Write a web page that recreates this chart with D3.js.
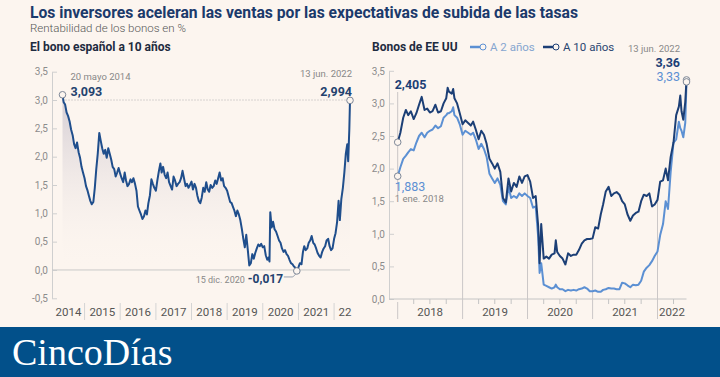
<!DOCTYPE html>
<html>
<head>
<meta charset="utf-8">
<script src="https://cdn.jsdelivr.net/npm/d3@7"></script>
<style>
  body { margin: 0; background: #fcf5ef; }
  svg text { font-family: Roboto, "Noto Sans", sans-serif; }
</style>
</head>
<body>
<div id="container"></div>
<script>
let w = 720;
let h = 377;

// Spanish 10-year bond yield (%)
let esDates = [
  "2014-05-20","2014-06-01","2014-06-16","2014-07-01","2014-07-16","2014-08-01","2014-08-16","2014-09-01","2014-09-16","2014-10-01","2014-10-16","2014-11-01","2014-11-16","2014-12-01","2014-12-16",
  "2015-01-01","2015-01-16","2015-02-01","2015-02-16","2015-03-01","2015-03-16","2015-04-01","2015-04-16","2015-05-01","2015-05-16","2015-06-01","2015-06-16","2015-07-01","2015-07-16","2015-08-01","2015-08-16","2015-09-01","2015-09-16","2015-10-01","2015-10-16","2015-11-01","2015-11-16","2015-12-01","2015-12-16",
  "2016-01-01","2016-01-16","2016-02-01","2016-02-16","2016-03-01","2016-03-16","2016-04-01","2016-04-16","2016-05-01","2016-05-16","2016-06-01","2016-06-16","2016-07-01","2016-07-16","2016-08-01","2016-08-16","2016-09-01","2016-09-16","2016-10-01","2016-10-16","2016-11-01","2016-11-16","2016-12-01","2016-12-16",
  "2017-01-01","2017-01-16","2017-02-01","2017-02-16","2017-03-01","2017-03-16","2017-04-01","2017-04-16","2017-05-01","2017-05-16","2017-06-01","2017-06-16","2017-07-01","2017-07-16","2017-08-01","2017-08-16","2017-09-01","2017-09-16","2017-10-01","2017-10-16","2017-11-01","2017-11-16","2017-12-01","2017-12-16",
  "2018-01-01","2018-01-16","2018-02-01","2018-02-16","2018-03-01","2018-03-16","2018-04-01","2018-04-16","2018-05-01","2018-05-16","2018-06-01","2018-06-16","2018-07-01","2018-07-16","2018-08-01","2018-08-16","2018-09-01","2018-09-16","2018-10-01","2018-10-16","2018-11-01","2018-11-16","2018-12-01","2018-12-16",
  "2019-01-01","2019-01-16","2019-02-01","2019-02-16","2019-03-01","2019-03-16","2019-04-01","2019-04-16","2019-05-01","2019-05-16","2019-06-01","2019-06-16","2019-07-01","2019-07-16","2019-08-01","2019-08-16","2019-09-01","2019-09-16","2019-10-01","2019-10-16","2019-11-01","2019-11-16","2019-12-01","2019-12-16",
  "2020-01-01","2020-01-16","2020-02-01","2020-02-16","2020-03-01","2020-03-10","2020-03-18","2020-04-01","2020-04-16","2020-05-01","2020-05-16","2020-06-01","2020-06-16","2020-07-01","2020-07-16","2020-08-01","2020-08-16","2020-09-01","2020-09-16","2020-10-01","2020-10-16","2020-11-01","2020-11-16","2020-12-01","2020-12-15",
  "2021-01-01","2021-01-16","2021-02-01","2021-02-16","2021-03-01","2021-03-16","2021-04-01","2021-04-16","2021-05-01","2021-05-16","2021-06-01","2021-06-16","2021-07-01","2021-07-16","2021-08-01","2021-08-16","2021-09-01","2021-09-16","2021-10-01","2021-10-16","2021-11-01","2021-11-16","2021-12-01","2021-12-16",
  "2022-01-01","2022-01-16","2022-02-01","2022-02-16","2022-03-01","2022-03-16","2022-04-01","2022-04-16","2022-05-01","2022-05-16","2022-05-25","2022-06-06","2022-06-13"
];
let esYield = [
  3.093,2.96,2.92,2.78,2.72,2.62,2.48,2.38,2.22,2.15,2.25,2.08,1.98,1.82,1.72,
  1.62,1.48,1.40,1.30,1.22,1.16,1.20,1.45,1.78,2.05,2.42,2.28,2.15,2.05,2.12,1.98,2.15,2.05,1.95,1.82,1.78,1.65,1.72,1.80,
  1.70,1.62,1.55,1.72,1.58,1.48,1.52,1.60,1.55,1.62,1.52,1.40,1.12,1.05,0.98,0.90,0.95,1.05,0.98,1.18,1.32,1.60,1.52,1.45,
  1.40,1.58,1.75,1.88,1.72,1.82,1.68,1.62,1.72,1.55,1.48,1.42,1.65,1.58,1.48,1.52,1.55,1.62,1.75,1.62,1.48,1.52,1.45,1.50,
  1.56,1.42,1.52,1.45,1.32,1.22,1.18,1.28,1.45,1.38,1.55,1.42,1.38,1.50,1.45,1.48,1.58,1.52,1.62,1.72,1.58,1.62,1.48,1.45,
  1.40,1.30,1.20,1.18,1.12,1.05,0.95,1.05,0.98,0.88,0.72,0.55,0.40,0.62,0.35,0.08,0.12,0.28,0.20,0.30,0.38,0.45,0.42,0.46,
  0.40,0.42,0.26,0.18,0.22,0.15,1.02,0.75,0.85,0.72,0.68,0.60,0.52,0.48,0.38,0.32,0.35,0.28,0.25,0.18,0.12,0.10,0.06,0.04,-0.017,
  0.05,0.12,0.10,0.32,0.42,0.35,0.38,0.48,0.52,0.60,0.48,0.45,0.38,0.30,0.25,0.22,0.32,0.38,0.42,0.52,0.55,0.42,0.35,0.38,
  0.55,0.65,0.85,1.22,0.88,1.25,1.45,1.72,2.05,2.22,1.92,2.48,2.994
];

// US Treasury yields (%)
let usDates = [
  "2018-01-01","2018-01-16","2018-02-01","2018-02-16","2018-03-01","2018-03-16","2018-04-01","2018-04-16","2018-05-01","2018-05-16","2018-06-01","2018-06-16","2018-07-01","2018-07-16","2018-08-01","2018-08-16","2018-09-01","2018-09-16","2018-10-01","2018-10-09","2018-10-16","2018-11-01","2018-11-09","2018-11-16","2018-12-01","2018-12-16",
  "2019-01-01","2019-01-16","2019-02-01","2019-02-16","2019-03-01","2019-03-16","2019-04-01","2019-04-16","2019-05-01","2019-05-16","2019-06-01","2019-06-16","2019-07-01","2019-07-16","2019-08-01","2019-08-16","2019-09-01","2019-09-16","2019-10-01","2019-10-16","2019-11-01","2019-11-16","2019-12-01","2019-12-16",
  "2020-01-01","2020-01-16","2020-02-01","2020-02-16","2020-03-01","2020-03-09","2020-03-18","2020-04-01","2020-04-16","2020-05-01","2020-05-16","2020-06-01","2020-06-08","2020-06-16","2020-07-01","2020-07-16","2020-08-01","2020-08-16","2020-09-01","2020-09-16","2020-10-01","2020-10-16","2020-11-01","2020-11-16","2020-12-01","2020-12-16",
  "2021-01-01","2021-01-16","2021-02-01","2021-02-16","2021-03-01","2021-03-16","2021-04-01","2021-04-16","2021-05-01","2021-05-16","2021-06-01","2021-06-16","2021-07-01","2021-07-16","2021-08-01","2021-08-16","2021-09-01","2021-09-16","2021-10-01","2021-10-16","2021-11-01","2021-11-16","2021-12-01","2021-12-16",
  "2022-01-01","2022-01-16","2022-02-01","2022-02-16","2022-03-01","2022-03-16","2022-04-01","2022-04-16","2022-05-01","2022-05-09","2022-05-16","2022-05-26","2022-06-06","2022-06-13"
];
let us10y = [
  2.405,2.55,2.78,2.90,2.82,2.88,2.76,2.85,2.98,3.10,2.90,2.92,2.86,2.88,2.98,2.86,2.88,3.00,3.08,3.24,3.18,3.15,3.22,3.08,3.00,2.85,
  2.68,2.74,2.70,2.66,2.72,2.60,2.45,2.58,2.52,2.38,2.15,2.08,2.00,2.08,1.95,1.55,1.48,1.85,1.65,1.78,1.72,1.88,1.78,1.88,
  1.90,1.80,1.55,1.58,1.12,0.55,1.15,0.62,0.65,0.62,0.68,0.70,0.90,0.72,0.66,0.62,0.53,0.70,0.66,0.68,0.68,0.75,0.85,0.90,0.92,0.92,
  0.93,1.10,1.08,1.30,1.45,1.65,1.72,1.58,1.62,1.64,1.60,1.50,1.45,1.30,1.20,1.28,1.32,1.34,1.50,1.60,1.58,1.62,1.42,1.45,
  1.52,1.80,1.82,2.00,1.82,2.18,2.40,2.82,2.95,3.12,2.88,2.75,3.02,3.36
];
let us2y = [
  1.883,2.02,2.15,2.20,2.25,2.30,2.28,2.40,2.50,2.55,2.48,2.55,2.58,2.60,2.66,2.62,2.65,2.78,2.82,2.85,2.85,2.88,2.94,2.82,2.78,2.68,
  2.52,2.58,2.55,2.52,2.55,2.45,2.30,2.38,2.30,2.18,1.92,1.85,1.78,1.85,1.75,1.50,1.45,1.72,1.55,1.58,1.55,1.62,1.58,1.62,
  1.58,1.55,1.40,1.42,0.95,0.40,0.55,0.22,0.20,0.18,0.16,0.18,0.22,0.18,0.15,0.15,0.12,0.14,0.13,0.14,0.13,0.15,0.16,0.18,0.16,0.12,
  0.12,0.13,0.11,0.11,0.14,0.15,0.17,0.16,0.16,0.15,0.15,0.25,0.24,0.21,0.18,0.22,0.21,0.22,0.28,0.42,0.48,0.52,0.58,0.66,
  0.73,0.98,1.15,1.50,1.38,1.95,2.40,2.45,2.72,2.62,2.58,2.48,2.70,3.33
];

let esTicks = [-0.5, 0, 0.5, 1, 1.5, 2, 2.5, 3, 3.5];
let usTicks = [0, 0.5, 1, 1.5, 2, 2.5, 3, 3.5];
let esYears = [2014, 2015, 2016, 2017, 2018, 2019, 2020, 2021, 2022];
let usYears = [2018, 2019, 2020, 2021, 2022];

let bg = "#fcf5ef";
let esColor = "#1f4e8c";
let c10 = "#1c3f76";
let c2 = "#5c90d3";

let parse = d3.timeParse("%Y-%m-%d");
let es = esDates.map((d, i) => ({date: parse(d), v: esYield[i]}));
let us = usDates.map((d, i) => ({date: parse(d), v10: us10y[i], v2: us2y[i]}));

let comma = d3.formatLocale({decimal: ",", thousands: ".", grouping: [3], currency: ["", ""], minus: "-"});
let f1 = comma.format(".1f");

let viz = d3.select("#container")
  .append("svg")
    .attr("width", w)
    .attr("height", h)
;
viz.append("rect").attr("width", w).attr("height", h).attr("fill", bg);

// titles
viz.append("text").attr("x", 30).attr("y", 18)
  .text("Los inversores aceleran las ventas por las expectativas de subida de las tasas")
  .attr("font-size", 17).attr("font-weight", 700).attr("fill", "#1b3a6b")
  .attr("textLength", 548).attr("lengthAdjust", "spacingAndGlyphs");
viz.append("text").attr("x", 30).attr("y", 32)
  .text("Rentabilidad de los bonos en %")
  .attr("font-size", 11.5).attr("fill", "#555").attr("font-weight", 300);
viz.append("text").attr("x", 30).attr("y", 51)
  .text("El bono español a 10 años")
  .attr("font-size", 12).attr("font-weight", 700).attr("fill", "#1e2b40");
viz.append("text").attr("x", 372).attr("y", 51)
  .text("Bonos de EE UU")
  .attr("font-size", 12).attr("font-weight", 700).attr("fill", "#1e2b40");

// ---------- left chart ----------
let xL = d3.scaleTime().domain([es[0].date, es[es.length - 1].date]).range([62.5, 350]);
let yL = d3.scaleLinear().domain([-0.5, 3.5]).range([298.3, 71.7]);

let defs = viz.append("defs");
let grad = defs.append("linearGradient").attr("id", "esFill")
  .attr("gradientUnits", "userSpaceOnUse")
  .attr("x1", 0).attr("x2", 0).attr("y1", yL(3.1)).attr("y2", yL(0));
grad.append("stop").attr("offset", 0).attr("stop-color", "#d3ccd3");
grad.append("stop").attr("offset", 1).attr("stop-color", bg).attr("stop-opacity", 0);

viz.append("path").datum(es)
  .attr("d", d3.area().x(d => xL(d.date)).y0(yL(0)).y1(d => yL(d.v)))
  .attr("fill", "url(#esFill)");

let yAxisL = viz.append("g").attr("transform", "translate(52,0)")
  .call(d3.axisLeft(yL).tickValues(esTicks).tickFormat(f1).tickSize(-5).tickSizeOuter(0).tickPadding(4));
yAxisL.select(".domain").attr("stroke", "#cfcfcf");
yAxisL.selectAll(".tick line").attr("stroke", "#cfcfcf");
yAxisL.selectAll("text").attr("fill", "#8c8c8c").attr("font-size", 10);

viz.append("line").attr("x1", 52).attr("x2", xL.range()[1]).attr("y1", yL(0)).attr("y2", yL(0))
  .attr("stroke", "#c9c9c9");
viz.append("line").attr("x1", xL.range()[0]).attr("x2", xL.range()[1]).attr("y1", yL(3)).attr("y2", yL(3))
  .attr("stroke", "#b0b0b0").attr("stroke-dasharray", "1,2");

viz.append("g").selectAll("line").data(esYears.slice(1)).enter()
  .append("line")
    .attr("x1", d => xL(new Date(d, 0, 1))).attr("x2", d => xL(new Date(d, 0, 1)))
    .attr("y1", 303).attr("y2", 320)
    .attr("stroke", "#d4d4d4");

viz.append("g").selectAll("text").data(esYears).enter()
  .append("text")
    .attr("x", d => Math.max(xL.range()[0] + 6, Math.min(xL.range()[1] - 5, xL(new Date(d, 6, 2)))))
    .attr("y", 316)
    .attr("text-anchor", "middle")
    .attr("font-size", 11.5).attr("fill", "#555")
    .text(d => d == 2022 ? "22" : d);

viz.append("path").datum(es)
  .attr("d", d3.line().x(d => xL(d.date)).y(d => yL(d.v)))
  .attr("fill", "none").attr("stroke", esColor).attr("stroke-width", 2).attr("stroke-linejoin", "round");

// annotations left
let esMin = es.find(d => d.v == d3.min(esYield));
let esFirst = es[0], esLast = es[es.length - 1];

viz.append("polyline")
  .attr("points", [[xL(esMin.date) - 13, yL(esMin.v) + 6], [xL(esMin.date) - 4, yL(esMin.v) + 6], [xL(esMin.date) - 1, yL(esMin.v) + 3]].join(" "))
  .attr("fill", "none").attr("stroke", "#9aa3b0");

viz.selectAll(".esMarker").data([esFirst, esLast, esMin]).enter()
  .append("circle")
    .attr("cx", d => xL(d.date)).attr("cy", d => yL(d.v)).attr("r", 3.3)
    .attr("fill", bg).attr("stroke", "#7d8797").attr("stroke-width", 1);

viz.append("text").attr("x", xL(esFirst.date) + 8).attr("y", 80)
  .text("20 mayo 2014").attr("font-size", 9.5).attr("fill", "#888");
viz.append("text").attr("x", xL(esFirst.date) + 8).attr("y", 96)
  .text(comma.format(".3f")(esFirst.v)).attr("font-size", 12.5).attr("font-weight", 700).attr("fill", "#23426e");
viz.append("text").attr("x", xL(esLast.date) + 2).attr("y", 77).attr("text-anchor", "end")
  .text("13 jun. 2022").attr("font-size", 9.5).attr("fill", "#888");
viz.append("text").attr("x", xL(esLast.date) + 2).attr("y", 96).attr("text-anchor", "end")
  .text(comma.format(".3f")(esLast.v)).attr("font-size", 12.5).attr("font-weight", 700).attr("fill", "#23426e");
viz.append("text").attr("x", xL(esMin.date) - 52).attr("y", 283).attr("text-anchor", "end")
  .text("15 dic. 2020").attr("font-size", 9).attr("fill", "#888");
viz.append("text").attr("x", xL(esMin.date) - 49).attr("y", 283)
  .text(comma.format(".3f")(esMin.v)).attr("font-size", 12).attr("font-weight", 700).attr("fill", "#23426e");

// ---------- right chart ----------
let xR = d3.scaleTime().domain([us[0].date, us[us.length - 1].date]).range([397.7, 686.5]);
let yR = d3.scaleLinear().domain([0, 3.5]).range([299, 70.8]);

let yAxisR = viz.append("g").attr("transform", "translate(389,0)")
  .call(d3.axisLeft(yR).tickValues(usTicks).tickFormat(f1).tickSize(-5).tickSizeOuter(0).tickPadding(4));
yAxisR.select(".domain").attr("stroke", "#cfcfcf");
yAxisR.selectAll(".tick line").attr("stroke", "#cfcfcf");
yAxisR.selectAll("text").attr("fill", "#8c8c8c").attr("font-size", 10);

viz.append("line").attr("x1", 389).attr("x2", xR.range()[1]).attr("y1", yR(0)).attr("y2", yR(0))
  .attr("stroke", "#c4c4c4");

// quarter ticks
let quarters = d3.timeMonth.every(3).range(xR.domain()[0], xR.domain()[1]).filter(d => d.getMonth() != 0);
viz.append("g").selectAll("line").data(quarters).enter()
  .append("line")
    .attr("x1", d => xR(d)).attr("x2", d => xR(d))
    .attr("y1", yR(0)).attr("y2", yR(0) + 5)
    .attr("stroke", "#c4c4c4");

// year lines dropping from the 10y curve
let bis = d3.bisector(d => d.date).left;
viz.append("g").selectAll("line").data(usYears).enter()
  .append("line")
    .attr("x1", d => xR(new Date(d, 0, 1))).attr("x2", d => xR(new Date(d, 0, 1)))
    .attr("y1", d => d == 2018 ? yR(0) + 3 : yR(us[bis(us, new Date(d, 0, 1))].v10))
    .attr("y2", 319)
    .attr("stroke", "#cbc7c7");

viz.append("g").selectAll("text").data(usYears).enter()
  .append("text")
    .attr("x", d => {
      let a = xR(Math.max(new Date(d, 0, 1), xR.domain()[0]));
      let b = xR(Math.min(new Date(d + 1, 0, 1), xR.domain()[1]));
      return (a + b) / 2;
    })
    .attr("y", 316)
    .attr("text-anchor", "middle")
    .attr("font-size", 11.5).attr("fill", "#555")
    .text(d => d);

// leader at start
let usFirst = us[0], usLast = us[us.length - 1];
viz.append("line")
  .attr("x1", xR(usFirst.date)).attr("x2", xR(usFirst.date))
  .attr("y1", 92).attr("y2", 196)
  .attr("stroke", "#c9c6c6");

viz.append("path").datum(us)
  .attr("d", d3.line().x(d => xR(d.date)).y(d => yR(d.v2)))
  .attr("fill", "none").attr("stroke", c2).attr("stroke-width", 2).attr("stroke-linejoin", "round");
viz.append("path").datum(us)
  .attr("d", d3.line().x(d => xR(d.date)).y(d => yR(d.v10)))
  .attr("fill", "none").attr("stroke", c10).attr("stroke-width", 2).attr("stroke-linejoin", "round");

viz.selectAll(".usMarker").data([
    {date: usFirst.date, v: usFirst.v10}, {date: usFirst.date, v: usFirst.v2},
    {date: usLast.date, v: usLast.v10}, {date: usLast.date, v: usLast.v2}
  ]).enter()
  .append("circle")
    .attr("cx", d => xR(d.date)).attr("cy", d => yR(d.v)).attr("r", 3.3)
    .attr("fill", bg).attr("stroke", "#7d8797").attr("stroke-width", 1);

viz.append("text").attr("x", xR(usFirst.date) - 3).attr("y", 89)
  .text(comma.format(".3f")(usFirst.v10)).attr("font-size", 12.5).attr("font-weight", 700).attr("fill", c10);
viz.append("text").attr("x", xR(usFirst.date) - 3).attr("y", 191)
  .text(comma.format(".3f")(usFirst.v2)).attr("font-size", 12.5).attr("fill", c2);
viz.append("text").attr("x", xR(usFirst.date) - 3).attr("y", 202)
  .text("1 ene. 2018").attr("font-size", 9.5).attr("fill", "#888");

viz.append("text").attr("x", 680).attr("y", 52).attr("text-anchor", "end")
  .text("13 jun. 2022").attr("font-size", 9.5).attr("fill", "#888");
viz.append("text").attr("x", 680).attr("y", 66.5).attr("text-anchor", "end")
  .text(comma.format(".2f")(usLast.v10)).attr("font-size", 12.5).attr("font-weight", 700).attr("fill", c10);
viz.append("text").attr("x", 680).attr("y", 81).attr("text-anchor", "end")
  .text(comma.format(".2f")(usLast.v2)).attr("font-size", 12.5).attr("fill", c2);

// legend
let legend = [
  {label: "A 2 años", color: c2, text: "#86a6cf", x: 470},
  {label: "A 10 años", color: c10, text: "#2a4570", x: 543}
];
let lg = viz.selectAll(".legend").data(legend).enter().append("g")
  .attr("transform", d => "translate(" + d.x + ",47)");
lg.append("line").attr("x1", 0).attr("x2", 10).attr("stroke", d => d.color).attr("stroke-width", 2.5);
lg.append("circle").attr("cx", 13).attr("r", 3).attr("fill", bg).attr("stroke", d => d.color);
lg.append("text").attr("x", 20).attr("y", 4).text(d => d.label).attr("font-size", 11.5).attr("fill", d => d.text);

// footer
viz.append("rect").attr("x", 0).attr("y", 327).attr("width", w).attr("height", h - 327).attr("fill", "#02508a");
viz.append("text").attr("x", 12).attr("y", 365)
  .text("CincoDías")
  .style("font-family", "'Liberation Serif', 'DejaVu Serif', serif")
  .attr("font-size", 38).attr("fill", "white");
</script>
</body>
</html>
